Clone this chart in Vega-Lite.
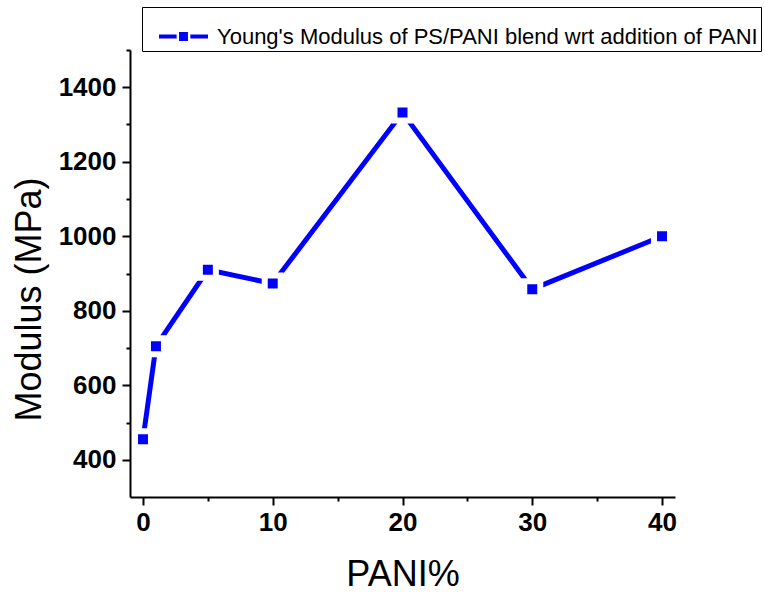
{
  "$schema": "https://vega.github.io/schema/vega-lite/v6.json",
  "autosize": "none",
  "width": 545,
  "height": 447,
  "padding": {"left": 130, "top": 50, "right": 90, "bottom": 95},
  "background": "white",
  "config": {
    "font": "Liberation Sans",
    "view": {"stroke": null},
    "axis": {"grid": false, "domainColor": "black", "domainWidth": 2, "tickColor": "black", "tickWidth": 2, "labelColor": "black", "titleColor": "black"}
  },
  "data": {
    "values": [
      {"pani": 0, "modulus": 455, "series": "Young's Modulus of PS/PANI blend wrt addition of PANI"},
      {"pani": 1, "modulus": 705, "series": "Young's Modulus of PS/PANI blend wrt addition of PANI"},
      {"pani": 5, "modulus": 910, "series": "Young's Modulus of PS/PANI blend wrt addition of PANI"},
      {"pani": 10, "modulus": 873, "series": "Young's Modulus of PS/PANI blend wrt addition of PANI"},
      {"pani": 20, "modulus": 1332, "series": "Young's Modulus of PS/PANI blend wrt addition of PANI"},
      {"pani": 30, "modulus": 858, "series": "Young's Modulus of PS/PANI blend wrt addition of PANI"},
      {"pani": 40, "modulus": 1000, "series": "Young's Modulus of PS/PANI blend wrt addition of PANI"}
    ]
  },
  "layer": [
    {
      "mark": {"type": "line", "strokeWidth": 5},
      "encoding": {
        "x": {
          "field": "pani", "type": "quantitative",
          "scale": {"domain": [-1, 41], "nice": false, "zero": false},
          "axis": {"orient": "bottom", "values": [0, 10, 20, 30, 40], "format": "d", "tickSize": 8, "labelFontSize": 26, "labelFontWeight": "bold", "labelPadding": 4, "title": "PANI%", "titleFontSize": 36, "titleFontWeight": "normal", "titlePadding": 22}
        },
        "y": {
          "field": "modulus", "type": "quantitative",
          "scale": {"domain": [300, 1500], "nice": false, "zero": false},
          "axis": {"orient": "left", "values": [400, 600, 800, 1000, 1200, 1400], "format": "d", "tickSize": 8, "labelFontSize": 26, "labelFontWeight": "bold", "labelPadding": 6, "title": "Modulus (MPa)", "titleFontSize": 36, "titleFontWeight": "normal", "titlePadding": 10, "titleY": 249}
        },
        "color": {
          "field": "series", "type": "nominal",
          "scale": {"range": ["#0000ff"]},
          "legend": {
            "orient": "none", "legendX": 12, "legendY": -43, "title": null,
            "strokeColor": "black", "padding": 3,
            "symbolType": "M-1,0H-0.28M0.28,0H1M-0.1,-0.1H0.1V0.1H-0.1Z",
            "symbolSize": 2400, "symbolStrokeWidth": 4,
            "symbolFillColor": "#0000ff", "symbolStrokeColor": "#0000ff",
            "symbolOffset": 12, "labelOffset": 7, "labelFontSize": 22, "labelColor": "black", "labelLimit": 1000
          }
        }
      }
    },
    {
      "mark": {"type": "point", "shape": "square", "filled": true, "size": 256, "fill": "#0000ff", "stroke": "white", "strokeWidth": 6, "opacity": 1},
      "encoding": {
        "x": {
          "field": "pani", "type": "quantitative",
          "scale": {"domain": [-1, 41], "nice": false, "zero": false},
          "axis": {"orient": "bottom", "values": [5, 15, 25, 35], "tickSize": 4, "labels": false, "domain": false, "title": null}
        },
        "y": {
          "field": "modulus", "type": "quantitative",
          "scale": {"domain": [300, 1500], "nice": false, "zero": false},
          "axis": {"orient": "left", "values": [500, 700, 900, 1100, 1300, 1500], "tickSize": 4, "labels": false, "domain": false, "title": null}
        }
      }
    }
  ],
  "resolve": {"axis": {"x": "independent", "y": "independent"}}
}
